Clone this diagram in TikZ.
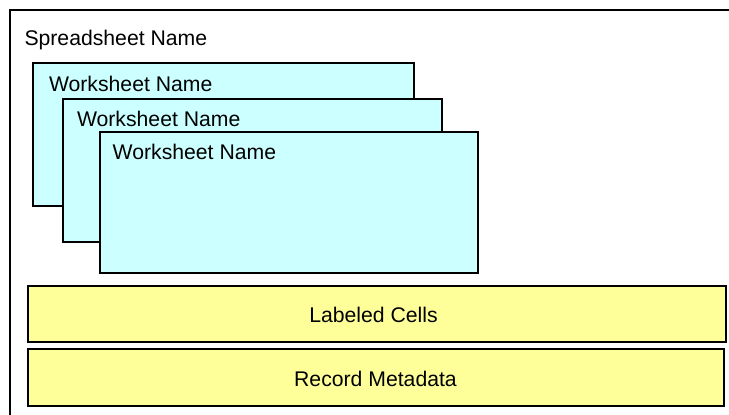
\documentclass[tikz,border=0pt]{standalone}
\usepackage{fontspec}
\setmainfont{Liberation Sans}
\begin{document}
\begin{tikzpicture}[x=1pt,y=-1pt,
  every node/.style={inner sep=0pt, outer sep=0pt},
  frame/.style={draw=black, line width=1.6pt},
  sheet/.style={frame, fill=sheetcyan, rectangle, anchor=north west},
  band/.style={frame, fill=bandyellow, rectangle, anchor=north west},
  caption/.style={font=\fontsize{21.2}{25}\selectfont, text=black}]
\definecolor{sheetcyan}{HTML}{CCFFFF}
\definecolor{bandyellow}{HTML}{FFFF99}
\useasboundingbox (0,0) rectangle (729,415);

% outer spreadsheet frame: only its top and left edges fall inside the page
\coordinate (framebottom) at (10,415);
\coordinate (frameright) at (729,10);
\draw[frame, line cap=rect] (framebottom) |- (frameright);
\node[caption, anchor=base west] (booktitle) at (24.5,45.7) {Spreadsheet Name};

% stacked worksheets
\node[sheet, minimum width=381, minimum height=143] (ws1) at (33,63) {};
\node[caption, anchor=base west] (ws1title) at (49,91.7) {Worksheet Name};
\node[sheet, minimum width=379, minimum height=143] (ws2) at (63,99) {};
\node[caption, anchor=base west] (ws2title) at (77,126.7) {Worksheet Name};
\node[sheet, minimum width=378, minimum height=141] (ws3) at (100,132) {};
\node[caption, anchor=base west] (ws3title) at (112.7,159.3) {Worksheet Name};

% bands below the worksheets
\node[band, minimum width=698, minimum height=56] (cells) at (28,286) {};
\node[caption, anchor=base] (cellstext) at (373.5,322.3) {Labeled Cells};
\node[band, minimum width=696, minimum height=57] (meta) at (28,349) {};
\node[caption, anchor=base] (metatext) at (375.5,386.7) {Record Metadata};
\end{tikzpicture}
\end{document}
